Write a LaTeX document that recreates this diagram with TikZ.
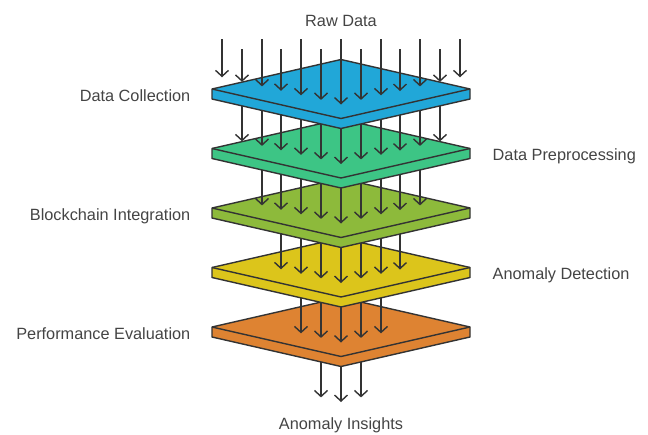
\documentclass[tikz,border=0pt]{standalone}
\usepackage{fontspec}
\setmainfont{Liberation Sans}
\usetikzlibrary{arrows.meta}
\definecolor{edgegray}{HTML}{333333}
\definecolor{labelgray}{HTML}{444444}
\definecolor{layerblue}{HTML}{21A7D8}
\definecolor{layergreen}{HTML}{3DC585}
\definecolor{layerolive}{HTML}{8DBA3B}
\definecolor{layeryellow}{HTML}{DCC51B}
\definecolor{layerorange}{HTML}{DE8332}

\begin{document}
\begin{tikzpicture}[x=1pt, y=-1pt, line width=1.4pt,
    plate/.style={draw=edgegray, line join=round},
    flow/.style={draw=edgegray, -{Straight Barb[length=6pt, width=13pt]}},
    lbl/.style={text=labelgray, font=\fontsize{16.3}{19}\selectfont, inner sep=0pt}]
    \useasboundingbox (0,0) rectangle (648,434);

    % layers, drawn from the bottom up
    \foreach \i/\col in {5/layerorange, 4/layeryellow, 3/layerolive, 2/layergreen, 1/layerblue} {
        \pgfmathsetmacro\cy{89+59.5*(\i-1)}
        \pgfmathsetmacro\ny{\cy+59.5}
        \pgfmathtruncatemacro\kb{\i}
        \pgfmathtruncatemacro\ke{12-\i}
        \foreach \k in {\kb,...,\ke} {
            \pgfmathsetmacro\ax{222+round(19.83*\k)}
            \pgfmathsetmacro\ay{\ny+15.5-29.5*abs(\ax-341)/129}
            \draw[flow] (\ax,\cy) -- (\ax,\ay);
        }
        \filldraw[plate, fill=\col] (212,\cy) -- (341,\cy-29.5) -- (470,\cy) -- (470,\cy+10)
            -- (341,\cy+39.5) -- (212,\cy+10) -- cycle;
        \draw[plate] (212,\cy) -- (341,\cy+29.5) -- (470,\cy);
    }

    % raw data
    \foreach \k in {0,...,12} {
        \pgfmathsetmacro\ax{222+round(19.83*\k)}
        \pgfmathsetmacro\sy{isodd(\k) ? 49 : 39}
        \pgfmathsetmacro\ay{104.5-29.5*abs(\ax-341)/129}
        \draw[flow] (\ax,\sy) -- (\ax,\ay);
    }

    \node[lbl, anchor=base] (raw) at (341,26) {Raw Data};
    \node[lbl, anchor=base east] (collect) at (191,101) {Data Collection};
    \node[lbl, anchor=base west] (prep) at (492,160.5) {Data Preprocessing};
    \node[lbl, anchor=base east] (chain) at (191,220) {Blockchain Integration};
    \node[lbl, anchor=base west] (detect) at (492,279.5) {Anomaly Detection};
    \node[lbl, anchor=base east] (eval) at (191,339) {Performance Evaluation};
    \node[lbl, anchor=base] (insight) at (341,429.5) {Anomaly Insights};
\end{tikzpicture}
\end{document}
